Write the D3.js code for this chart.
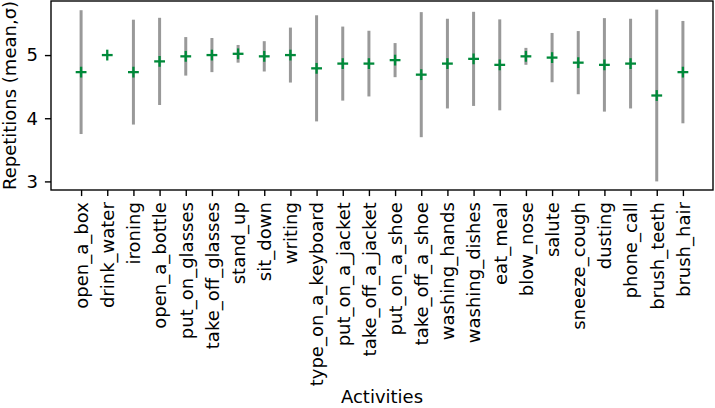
<!DOCTYPE html>
<html>
<head>
<meta charset="utf-8">
<script src="https://cdn.jsdelivr.net/npm/d3@7"></script>
<style>
  html, body { margin: 0; padding: 0; background: #fff; }
  svg { display: block; }
  text { font-family: "DejaVu Sans", sans-serif; fill: #000; }
</style>
</head>
<body>
<svg id="chart" width="715" height="408"></svg>
<script>
const categories = ["open_a_box","drink_water","ironing","open_a_bottle","put_on_glasses","take_off_glasses","stand_up","sit_down","writing","type_on_a_keyboard","put_on_a_jacket","take_off_a_jacket","put_on_a_shoe","take_off_a_shoe","washing_hands","washing_dishes","eat_meal","blow_nose","salute","sneeze_cough","dusting","phone_call","brush_teeth","brush_hair"];
const means = [4.73, 5.0, 4.73, 4.90, 4.98, 5.0, 5.02, 4.98, 5.0, 4.79, 4.865, 4.865, 4.92, 4.69, 4.865, 4.94, 4.845, 4.98, 4.96, 4.88, 4.845, 4.865, 4.36, 4.73];
const stds  = [0.98, 0.0, 0.83, 0.69, 0.305, 0.27, 0.14, 0.24, 0.435, 0.84, 0.586, 0.52, 0.27, 0.99, 0.71, 0.745, 0.72, 0.134, 0.39, 0.50, 0.74, 0.71, 1.36, 0.81];
const yTicks = [3, 4, 5];

const W = 715, H = 408;
const m = {left: 51, right: 2, top: 1, bottom: 218};
const svg = d3.select("#chart");
const fs = "18px";
const tk = 6.08;

const n = categories.length;
const xPad = 0.05 * (n - 1);
const x = d3.scaleLinear().domain([-xPad, n - 1 + xPad]).range([m.left, W - m.right]);
const lo = d3.min(means.map((v, i) => v - stds[i]));
const hi = d3.max(means.map((v, i) => v + stds[i]));
const yPad = 0.05 * (hi - lo);
const y = d3.scaleLinear().domain([lo - yPad, hi + yPad]).range([H - m.bottom, m.top]);

const data = categories.map((c, i) => ({c, i, m: means[i], s: stds[i]}));

// error bars
svg.append("g").selectAll("line").data(data.filter(d => d.s > 0)).join("line")
  .attr("x1", d => x(d.i)).attr("x2", d => x(d.i))
  .attr("y1", d => y(d.m - d.s)).attr("y2", d => y(d.m + d.s))
  .attr("stroke", "#999999").attr("stroke-width", 3);

// markers '+'
const ms = 5.4;
const mk = svg.append("g").selectAll("g").data(data).join("g")
  .attr("transform", d => `translate(${x(d.i)},${y(d.m)})`);
mk.append("line").attr("x1", -ms).attr("x2", ms).attr("y1", 0).attr("y2", 0)
  .attr("stroke", "#008a3a").attr("stroke-width", 2.3);
mk.append("line").attr("x1", 0).attr("x2", 0).attr("y1", -ms).attr("y2", ms)
  .attr("stroke", "#008a3a").attr("stroke-width", 2.3);

// frame
svg.append("rect").attr("x", m.left).attr("y", m.top)
  .attr("width", W - m.right - m.left).attr("height", H - m.bottom - m.top)
  .attr("fill", "none").attr("stroke", "#000").attr("stroke-width", 1.39);

// x axis
const xAxis = d3.axisBottom(x).tickValues(d3.range(n)).tickFormat(i => categories[i])
  .tickSize(tk).tickPadding(tk);
const gx = svg.append("g").attr("transform", `translate(0,${H - m.bottom})`).call(xAxis)
  .attr("font-size", null).attr("font-family", null);
gx.select(".domain").remove();
gx.selectAll(".tick line").attr("stroke", "#000").attr("stroke-width", 1.39);
gx.selectAll(".tick text")
  .style("font-size", fs)
  .attr("text-anchor", "end")
  .attr("transform", "rotate(-90)")
  .attr("x", -2 * tk).attr("y", 0).attr("dy", "0.35em");

// y axis
const yAxis = d3.axisLeft(y).tickValues(yTicks).tickFormat(d3.format("d"))
  .tickSize(tk).tickPadding(7);
const gy = svg.append("g").attr("transform", `translate(${m.left},0)`).call(yAxis)
  .attr("font-size", null).attr("font-family", null);
gy.select(".domain").remove();
gy.selectAll(".tick line").attr("stroke", "#000").attr("stroke-width", 1.39);
gy.selectAll(".tick text").style("font-size", fs);

// labels
svg.append("text").attr("x", (m.left + W - m.right) / 2).attr("y", 403)
  .attr("text-anchor", "middle").style("font-size", fs).text("Activities");
svg.append("text")
  .attr("transform", `translate(15.5,${(m.top + H - m.bottom) / 2}) rotate(-90)`)
  .attr("text-anchor", "middle").style("font-size", fs).text("Repetitions (mean,σ)");
</script>
</body>
</html>
